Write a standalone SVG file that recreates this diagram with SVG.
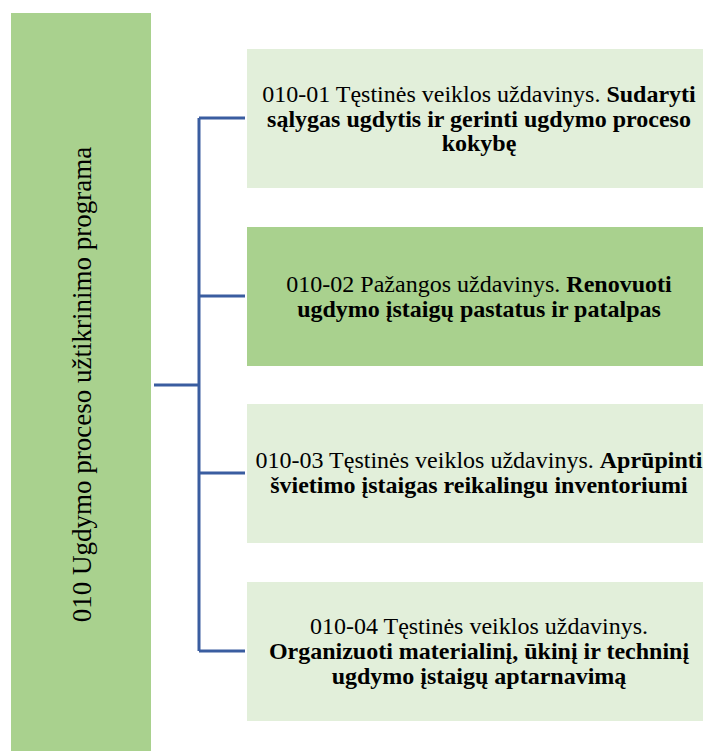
<svg xmlns="http://www.w3.org/2000/svg" width="703" height="751" viewBox="0 0 703 751">
<style>
.t{font-family:"Liberation Serif","Times New Roman",serif;font-size:24px;fill:#000;text-anchor:middle}
.b{font-weight:bold}
.c{fill:none;stroke:#3A5DA0;stroke-width:3}
</style>
<rect width="703" height="751" fill="#fff"/>
<g id="root">
<rect x="11" y="13" width="140" height="738" fill="#A9D18E"/>
<text class="t" style="font-size:27px" transform="translate(91,384.5) rotate(-90)">010 Ugdymo proceso užtikrinimo programa</text>
</g>
<g id="connectors">
<path class="c" d="M154 385H199M199 118V651M199 118H245M199 296H245M199 473H245M199 651H245"/>
</g>
<g id="n1">
<rect x="247" y="49" width="456" height="139" fill="#E2EFDA"/>
<text class="t" x="479" y="102">010-01 Tęstinės veiklos uždavinys. <tspan class="b">Sudaryti</tspan></text>
<text class="t b" x="479" y="127">sąlygas ugdytis ir gerinti ugdymo proceso</text>
<text class="t b" x="479" y="151">kokybę</text>
</g>
<g id="n2">
<rect x="247" y="227" width="456" height="139" fill="#A9D18E"/>
<text class="t" x="479" y="292">010-02 Pažangos uždavinys. <tspan class="b">Renovuoti</tspan></text>
<text class="t b" x="479" y="317">ugdymo įstaigų pastatus ir patalpas</text>
</g>
<g id="n3">
<rect x="247" y="404" width="456" height="139" fill="#E2EFDA"/>
<text class="t" x="479" y="468">010-03 Tęstinės veiklos uždavinys. <tspan class="b">Aprūpinti</tspan></text>
<text class="t b" x="479" y="493">švietimo įstaigas reikalingu inventoriumi</text>
</g>
<g id="n4">
<rect x="247" y="582" width="456" height="139" fill="#E2EFDA"/>
<text class="t" x="479" y="634">010-04 Tęstinės veiklos uždavinys.</text>
<text class="t b" x="479" y="659">Organizuoti materialinį, ūkinį ir techninį</text>
<text class="t b" x="479" y="684">ugdymo įstaigų aptarnavimą</text>
</g>
</svg>
